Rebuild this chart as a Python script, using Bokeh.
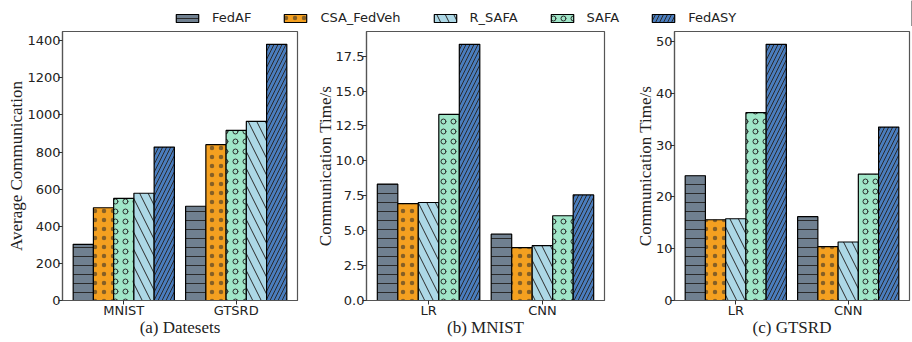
import numpy as np
from bokeh.plotting import figure
from bokeh.models import Range1d, FixedTicker, NumeralTickFormatter, Legend, LegendItem
from bokeh.layouts import column, row
from bokeh.embed import file_html
from bokeh.resources import INLINE

# ---------------- data ----------------
methods = ["FedAF", "CSA_FedVeh", "R_SAFA", "SAFA", "FedASY"]

# (a) Datesets  (bar order in this panel: FedAF, CSA_FedVeh, SAFA, R_SAFA, FedASY)
datasets = ["MNIST", "GTSRD"]
a_order = ["FedAF", "CSA_FedVeh", "SAFA", "R_SAFA", "FedASY"]
a_FedAF = [303, 508]
a_CSA_FedVeh = [500, 840]
a_SAFA = [550, 917]
a_R_SAFA = [578, 966]
a_FedASY = [827, 1381]
a_yticks = [0, 200, 400, 600, 800, 1000, 1200, 1400]

# (b) MNIST
models = ["LR", "CNN"]
b_order = ["FedAF", "CSA_FedVeh", "R_SAFA", "SAFA", "FedASY"]
b_FedAF = [8.33, 4.75]
b_CSA_FedVeh = [6.94, 3.79]
b_R_SAFA = [7.02, 3.93]
b_SAFA = [13.33, 6.07]
b_FedASY = [18.35, 7.56]
b_yticks = [0.0, 2.5, 5.0, 7.5, 10.0, 12.5, 15.0, 17.5]

# (c) GTSRD
c_order = ["FedAF", "CSA_FedVeh", "R_SAFA", "SAFA", "FedASY"]
c_FedAF = [24.1, 16.2]
c_CSA_FedVeh = [15.6, 10.4]
c_R_SAFA = [15.8, 11.3]
c_SAFA = [36.3, 24.4]
c_FedASY = [49.5, 33.5]
c_yticks = [0, 10, 20, 30, 40, 50]

# ---------------- styles ----------------
HATCH_COL = "#2a2a2a"
styles = {
    "FedAF": dict(fill_color="#708090", hatch_pattern="-", hatch_scale=9, hatch_weight=1.0),
    "CSA_FedVeh": dict(fill_color="#F4A020", hatch_pattern=".", hatch_scale=9,
                       hatch_weight=0.3, hatch_alpha=0.55),
    "R_SAFA": dict(fill_color="#ADD8E6", hatch_pattern="\\", hatch_scale=17, hatch_weight=1.0),
    "SAFA": dict(fill_color="#A0E6C8", hatch_pattern="o", hatch_scale=10, hatch_weight=1.0),
    "FedASY": dict(fill_color="#4A7DBE", hatch_pattern="/", hatch_scale=8, hatch_weight=1.0),
}
common = dict(line_color="black", line_width=1.2, hatch_color=HATCH_COL)

SERIF = "Liberation Serif"
SANS = "DejaVu Sans"
TXT = "#222222"
BAR_W = 0.18
PANEL_H = 316


def make_panel(groups, order, series, yticks, ymax, ylabel, xlabel,
               width, left, right, fmt=None):
    p = figure(width=width, height=PANEL_H, output_backend="svg",
               toolbar_location=None,
               x_range=Range1d(-0.545, len(groups) - 1 + 0.545),
               y_range=Range1d(0, ymax * 1.05),
               min_border_left=left, min_border_right=right,
               min_border_top=5, min_border_bottom=42)
    for i, name in enumerate(order):
        xs = [g + (i - 2) * BAR_W for g in range(len(groups))]
        p.vbar(x=xs, top=series[name], width=BAR_W, bottom=0,
               **styles[name], **common)
    p.xgrid.visible = False
    p.ygrid.visible = False
    p.outline_line_color = "#555555"
    p.outline_line_width = 1.2

    xa = p.xaxis[0]
    xa.ticker = FixedTicker(ticks=list(range(len(groups))))
    xa.major_label_overrides = {i: g for i, g in enumerate(groups)}
    ya = p.yaxis[0]
    ya.ticker = FixedTicker(ticks=yticks)
    if fmt:
        ya.formatter = NumeralTickFormatter(format=fmt)
    for ax in (xa, ya):
        ax.axis_line_color = "#555555"
        ax.axis_line_width = 1.2
        ax.major_tick_in = 0
        ax.major_tick_out = 4
        ax.minor_tick_out = 0
        ax.minor_tick_in = 0
        ax.major_tick_line_color = "#333333"
        ax.major_label_text_font = SANS
        ax.major_label_text_font_size = "13px"
        ax.major_label_text_color = TXT
        ax.major_label_standoff = -2
        ax.axis_label_text_font = SERIF
        ax.axis_label_text_font_size = "17px"
        ax.axis_label_text_font_style = "normal"
        ax.axis_label_text_color = TXT
        ax.axis_label_standoff = -3
    ya.axis_label_standoff = -2
    xa.axis_label = xlabel
    ya.axis_label = ylabel
    return p


pa = make_panel(datasets, a_order,
                {"FedAF": a_FedAF, "CSA_FedVeh": a_CSA_FedVeh, "SAFA": a_SAFA,
                 "R_SAFA": a_R_SAFA, "FedASY": a_FedASY},
                a_yticks, max(a_FedASY), "Average Communication",
                "(a) Datesets", 308, 62, 11)
pb = make_panel(models, b_order,
                {"FedAF": b_FedAF, "CSA_FedVeh": b_CSA_FedVeh, "R_SAFA": b_R_SAFA,
                 "SAFA": b_SAFA, "FedASY": b_FedASY},
                b_yticks, max(b_FedASY), "Communication Time/s",
                "(b) MNIST", 312, 58, 16, fmt="0.0")
pc = make_panel(models, c_order,
                {"FedAF": c_FedAF, "CSA_FedVeh": c_CSA_FedVeh, "R_SAFA": c_R_SAFA,
                 "SAFA": c_SAFA, "FedASY": c_FedASY},
                c_yticks, max(c_FedASY), "Communication Time/s",
                "(c) GTSRD", 292, 54, 3)

# ---------------- legend strip ----------------
lf = figure(width=912, height=26, output_backend="svg", toolbar_location=None,
            x_range=Range1d(0, 1), y_range=Range1d(0, 1),
            x_axis_type=None, y_axis_type=None, min_border=0,
            outline_line_color=None)
lf.xgrid.visible = False
lf.ygrid.visible = False
items = []
for name in methods:
    # legend-only proxy glyph, placed outside the visible range
    r = lf.vbar(x=[5], top=[1], width=0.1, **styles[name], **common)
    items.append(LegendItem(label=name, renderers=[r]))
leg = Legend(items=items, orientation="horizontal", location=(173, 1),
             border_line_color=None, background_fill_alpha=0,
             padding=0, margin=0, spacing=30, glyph_width=28, glyph_height=10,
             label_standoff=11, label_height=14, label_text_font=SANS,
             label_text_font_size="13px", label_text_color=TXT)
lf.add_layout(leg)

layout = column(lf, row(pa, pb, pc))
open("out.html", "w").write(file_html(layout, INLINE))
